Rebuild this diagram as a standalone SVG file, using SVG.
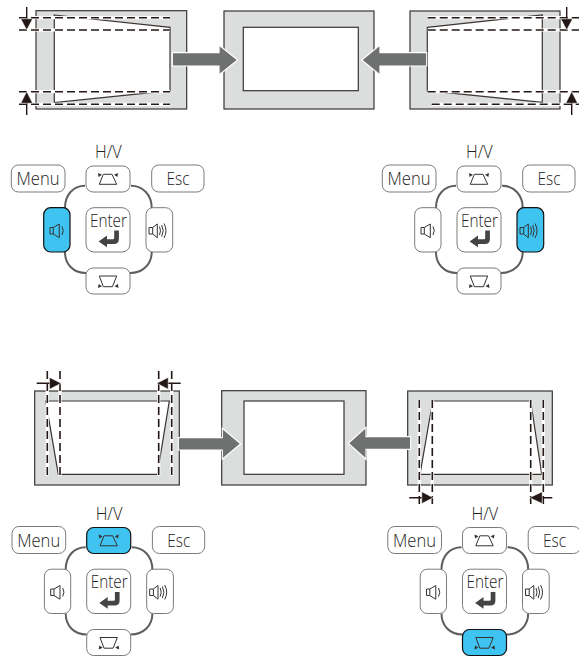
<svg xmlns="http://www.w3.org/2000/svg" width="579" height="658" viewBox="0 0 579 658">
<style>
.panel{fill:#dcdedd;stroke:#3a3433;stroke-width:1.2}
.screen{fill:#fff;stroke:#3a3433;stroke-width:1.2}
.dw{fill:none;stroke:#fff;stroke-width:3.2}
.dk{fill:none;stroke:#231815;stroke-width:1.6;stroke-dasharray:8 4}
.stem{fill:none;stroke:#231815;stroke-width:1.4}
.head{fill:#231815;stroke:#fff;stroke-width:.5}
.big{fill:#6f7170;stroke:#fff;stroke-width:1.2}
.btn{fill:#fff;stroke:#7a7a7a;stroke-width:1}
.on{fill:#3fc3f0;stroke:#111;stroke-width:1.2}
.arc{fill:none;stroke:#5e5e5e;stroke-width:2}
.t{font-family:"Open Sans","Noto Sans",sans-serif;font-weight:300;fill:#222;text-anchor:middle;font-size:19px}
.ic{fill:none;stroke:#333;stroke-width:1}
.tri{fill:#333}
</style>
<defs>
<path id="arcs" class="arc" d="M85 185.7C73 185.7 65 195 65 208M131 185.7C143 185.7 151.7 195 151.7 208M65 252C65 264 73 273 86 273M130 273C143 273 151.7 264 151.7 252"/>
<g id="i-top">
<path class="ic" d="M103.3 174.3H112L116.7 184.3H99.3Z"/>
<path class="tri" d="M98 173L102 174.8L98.6 177ZM118 173L114 174.8L117.4 177Z"/>
</g>
<g id="i-bot">
<path class="ic" d="M99.3 276H116.7L112.4 286.7H103.3Z"/>
<path class="tri" d="M98 288L102 286.2L98.6 284ZM118.5 288L114.5 286.2L117.9 284Z"/>
</g>
<g id="i-down">
<path class="ic" d="M50 227.5H53.3L59.3 224V237.7L53.3 234H50ZM53.3 227.5V234"/>
<path class="ic" d="M62 226.5Q64.5 230.7 62 235"/>
</g>
<g id="i-up">
<path class="ic" d="M149 227.5H152.7L157.3 224V237.7L152.7 234H149ZM152.7 227.5V234"/>
<path class="ic" d="M159.5 226.5Q161.5 230.7 159.5 235M161.7 225Q164.7 230.7 161.7 236.5M164 223.5Q168 230.7 164 238"/>
</g>
<g id="i-enter">
<path fill="#444" d="M114.2 230.5H118.9V239Q118.9 244 114 244H107V247.2L98.6 241.5L107 235.6V239.3H113Q114.2 239.3 114.2 238Z"/>
</g>
<g id="keys">
<text class="t" x="108.3" y="158" textLength="26.7" lengthAdjust="spacingAndGlyphs">H/V</text>
<rect class="btn" x="11.3" y="165" width="53.7" height="27" rx="7"/><text class="t" x="38" y="185" textLength="43" lengthAdjust="spacingAndGlyphs">Menu</text>
<rect class="btn" x="151.7" y="165" width="52.3" height="27" rx="7"/><text class="t" x="178" y="185" textLength="23" lengthAdjust="spacingAndGlyphs">Esc</text>
<rect class="btn" x="86" y="207.7" width="44" height="44.3" rx="8"/><text class="t" x="108.5" y="226.7" textLength="37" lengthAdjust="spacingAndGlyphs">Enter</text><use href="#i-enter"/>
</g>
</defs>

<g id="panel-top-left">
<rect class="panel" x="36" y="10.7" width="150.7" height="98.3"/>
<path class="screen" d="M54.3 15L170 27.3V90.7L54.3 102.7Z"/>
<path class="dw" d="M19 17.7H170M19 30H170M19 91.7H170M19 104.3H170"/>
<path class="dk" d="M19 17.7H170M19 30H170M19 91.7H170M19 104.3H170"/>
<path class="stem" d="M26.7 7V20M26.7 103V115"/>
<path class="head" d="M20.8 18.8H32.6L26.7 30ZM20.8 103.2H32.6L26.7 91.6Z"/>
</g>
<g id="panel-top-center">
<rect class="panel" x="224" y="11" width="150" height="98"/>
<rect class="screen" x="243.3" y="27.3" width="115" height="63.4"/>
</g>
<g id="panel-top-right">
<rect class="panel" x="410" y="11" width="150" height="98"/>
<path class="screen" d="M427.3 27.3L542.3 15V102.3L427.3 90.7Z"/>
<path class="dw" d="M427.7 17.7H579M427.7 30H579M427.7 91.7H579M431.7 104.3H579"/>
<path class="dk" d="M427.7 17.7H579M427.7 30H579M427.7 91.7H579M431.7 104.3H579"/>
<path class="stem" d="M566.7 7V20M571.7 103V115"/>
<path class="head" d="M560.8 18.8H572.6L566.7 30ZM565.8 103.2H577.6L571.7 91.6Z"/>
</g>
<g id="panel-bottom-left">
<rect class="panel" x="34.7" y="391" width="144.6" height="94"/>
<path class="screen" d="M45.7 401H169.3L157.3 474.3H58.3Z"/>
<path class="dw" d="M47.3 371V475.7M60 371V475.7M158.7 371V475.7M171.7 371V475.7"/>
<path class="dk" d="M47.3 371V475.7M60 371V475.7M158.7 371V475.7M171.7 371V475.7"/>
<path class="stem" d="M36.7 383.3H50M167 383.3H180.7"/>
<path class="head" d="M49.5 377.4V389.2L61.2 383.3ZM168.2 377.4V389.2L156.8 383.3Z"/>
</g>
<g id="panel-bottom-center">
<rect class="panel" x="221.7" y="390.7" width="144.3" height="94.3"/>
<rect class="screen" x="244" y="401" width="100" height="73.3"/>
</g>
<g id="panel-bottom-right">
<rect class="panel" x="407.7" y="391" width="144.6" height="94"/>
<path class="screen" d="M432.7 401H530.7L541.7 474.3H420Z"/>
<path class="dw" d="M419.3 400V505M432.3 400V505M530.7 400V505M543.3 400V505"/>
<path class="dk" d="M419.3 400V505M432.3 400V505M530.7 400V505M543.3 400V505"/>
<path class="stem" d="M409.3 497.7H423M541 497.7H552.3"/>
<path class="head" d="M421.8 491.8V503.6L433.2 497.7ZM542.2 491.8V503.6L529.7 497.7Z"/>
</g>

<g id="connectors">
<path class="big" d="M172.3 52.7H219V45L237.7 60L219 75V66H172.3Z"/>
<path class="big" d="M426.7 52.7H380V45L361.7 60L380 75V66H426.7Z"/>
<path class="big" d="M178.3 437.7H222.3V428.3L240.7 443.7L222.3 459.3V450H178.3Z"/>
<path class="big" d="M410.7 436.7H366V427.3L348.3 443.3L366 459.3V449.3H410.7Z"/>
<use href="#arcs"/>
<use href="#arcs" transform="translate(371 0)"/>
<use href="#arcs" transform="translate(.7 361.5)"/>
<use href="#arcs" transform="translate(376.5 361.5)"/>
</g>

<g id="keypad-1">
<use href="#keys"/>
<g id="kp1-top"><rect class="btn" x="86" y="166" width="44" height="26" rx="7"/><use href="#i-top"/></g>
<g id="kp1-down"><rect class="on" x="43.7" y="207.7" width="26.3" height="44.3" rx="7"/><use href="#i-down"/></g>
<g id="kp1-up"><rect class="btn" x="146" y="207.7" width="26.7" height="44.3" rx="7"/><use href="#i-up"/></g>
<g id="kp1-bot"><rect class="btn" x="86" y="268" width="44" height="26" rx="7"/><use href="#i-bot"/></g>
</g>
<g id="keypad-2" transform="translate(371 0)">
<use href="#keys"/>
<g id="kp2-top"><rect class="btn" x="86" y="166" width="44" height="26" rx="7"/><use href="#i-top"/></g>
<g id="kp2-down"><rect class="btn" x="43.7" y="207.7" width="26.3" height="44.3" rx="7"/><use href="#i-down"/></g>
<g id="kp2-up"><rect class="on" x="146" y="207.7" width="26.7" height="44.3" rx="7"/><use href="#i-up"/></g>
<g id="kp2-bot"><rect class="btn" x="86" y="268" width="44" height="26" rx="7"/><use href="#i-bot"/></g>
</g>
<g id="keypad-3" transform="translate(.7 361.5)">
<use href="#keys"/>
<g id="kp3-top"><rect class="on" x="86" y="166" width="44" height="26" rx="7"/><use href="#i-top"/></g>
<g id="kp3-down"><rect class="btn" x="43.7" y="207.7" width="26.3" height="44.3" rx="7"/><use href="#i-down"/></g>
<g id="kp3-up"><rect class="btn" x="146" y="207.7" width="26.7" height="44.3" rx="7"/><use href="#i-up"/></g>
<g id="kp3-bot"><rect class="btn" x="86" y="268" width="44" height="26" rx="7"/><use href="#i-bot"/></g>
</g>
<g id="keypad-4" transform="translate(376.5 361.5)">
<use href="#keys"/>
<g id="kp4-top"><rect class="btn" x="86" y="166" width="44" height="26" rx="7"/><use href="#i-top"/></g>
<g id="kp4-down"><rect class="btn" x="43.7" y="207.7" width="26.3" height="44.3" rx="7"/><use href="#i-down"/></g>
<g id="kp4-up"><rect class="btn" x="146" y="207.7" width="26.7" height="44.3" rx="7"/><use href="#i-up"/></g>
<g id="kp4-bot"><rect class="on" x="86" y="268" width="44" height="26" rx="7"/><use href="#i-bot"/></g>
</g>
</svg>
